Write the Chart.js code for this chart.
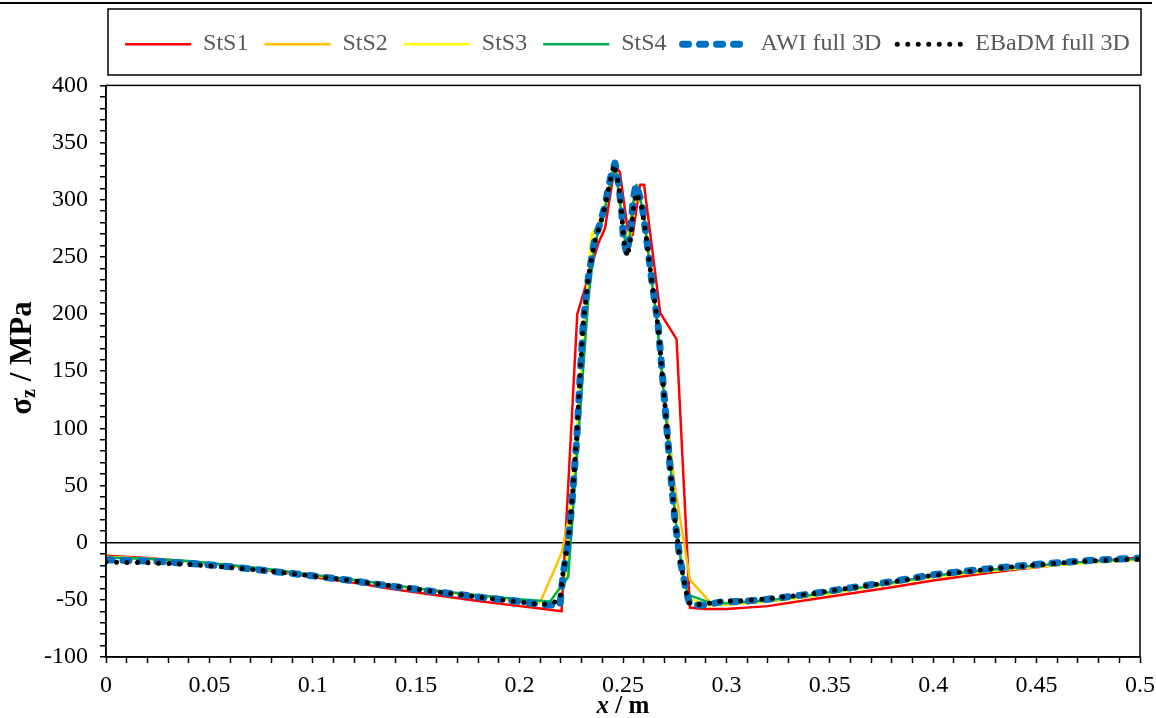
<!DOCTYPE html>
<html>
<head>
<meta charset="utf-8">
<script src="https://cdn.jsdelivr.net/npm/chart.js@4.4.1/dist/chart.umd.min.js"></script>
<style>
  html, body { margin: 0; padding: 0; background: #fff; }
  #wrap { width: 1156px; height: 718px; }
</style>
</head>
<body>
<div id="wrap"><canvas id="chart" width="1156" height="718"></canvas></div>
<script>
// series labels
const seriesNames = ['StS1', 'StS2', 'StS3', 'StS4', 'AWI full 3D', 'EBaDM full 3D'];

// x / m and sigma_z / MPa
const xStS1 = [0, 0.02, 0.04, 0.06, 0.08, 0.1, 0.12, 0.14, 0.16, 0.18, 0.2, 0.21, 0.2203, 0.2279, 0.2381, 0.2413, 0.2461, 0.2485, 0.2526, 0.2547, 0.2582, 0.2602, 0.268, 0.2759, 0.2824, 0.29, 0.3, 0.32, 0.34, 0.36, 0.38, 0.4, 0.42, 0.44, 0.46, 0.48, 0.5];
const yStS1 = [-11.5, -13.5, -16.5, -20, -24.5, -30, -35, -41, -46, -51, -55.5, -57.5, -60, 200, 262, 275, 330, 324, 269, 269, 313, 313, 201, 178, -57, -58, -58, -55.5, -50, -44.5, -39, -33, -28, -23.5, -19.5, -16, -13];

const xStS2 = [0, 0.02, 0.04, 0.06, 0.08, 0.1, 0.12, 0.14, 0.16, 0.18, 0.2, 0.2099, 0.2203, 0.2252, 0.2348, 0.2381, 0.2413, 0.2461, 0.2494, 0.2518, 0.2542, 0.2566, 0.2598, 0.263, 0.2663, 0.2695, 0.2751, 0.2824, 0.2921, 0.3, 0.32, 0.34, 0.36, 0.38, 0.4, 0.42, 0.44, 0.46, 0.48, 0.5];
const yStS2 = [-12.5, -14, -16.5, -20, -24, -28.5, -33, -38, -42.5, -46.5, -50.5, -52.3, -9, 35, 268, 278, 296, 332, 284, 258, 272, 308, 292, 240, 196, 140, 49, -32.5, -52, -54, -51.5, -47, -41.5, -36, -30, -26, -22.5, -19.5, -17, -15];

const xStS3 = [0, 0.02, 0.04, 0.06, 0.08, 0.1, 0.12, 0.14, 0.16, 0.18, 0.2, 0.2147, 0.2227, 0.2276, 0.2348, 0.2381, 0.2413, 0.2461, 0.2494, 0.2518, 0.2542, 0.2566, 0.2598, 0.263, 0.2663, 0.2695, 0.2727, 0.2759, 0.2791, 0.2816, 0.2921, 0.3, 0.32, 0.34, 0.36, 0.38, 0.4, 0.42, 0.44, 0.46, 0.48, 0.5];
const yStS3 = [-12.5, -14, -16.5, -20, -24, -28.5, -33, -38, -42.5, -46.5, -50.5, -52, -29.5, 95, 270, 278, 296, 333, 283, 262, 290, 305, 292, 240, 196, 135, 75, 15, -28, -48.5, -55, -54, -51.5, -47, -41.5, -36, -30, -26, -22.5, -19.5, -17, -15];

const xStS4 = [0, 0.02, 0.04, 0.06, 0.08, 0.1, 0.12, 0.14, 0.16, 0.18, 0.2, 0.2147, 0.2235, 0.2332, 0.2364, 0.2397, 0.2429, 0.2461, 0.2494, 0.2518, 0.2534, 0.255, 0.2566, 0.2598, 0.263, 0.2663, 0.2695, 0.2727, 0.2759, 0.2791, 0.2816, 0.2921, 0.3, 0.32, 0.34, 0.36, 0.38, 0.4, 0.42, 0.44, 0.46, 0.48, 0.5];
const yStS4 = [-13, -14, -16, -19.5, -23.5, -28, -32.5, -37.5, -42, -46, -49.5, -51.4, -30, 213, 262, 280, 305, 333, 285, 254, 270, 298, 313, 290, 242, 196, 135, 72, 12, -30, -45.6, -52.4, -53, -50.5, -46, -40.5, -35, -29, -25, -21.5, -18.5, -16, -14];

const xAWI = [0, 0.02, 0.04, 0.06, 0.08, 0.1, 0.12, 0.14, 0.16, 0.18, 0.2, 0.21, 0.2195, 0.2211, 0.2235, 0.2252, 0.2276, 0.2292, 0.2308, 0.2332, 0.2364, 0.2389, 0.2413, 0.2429, 0.2446, 0.2461, 0.2478, 0.2494, 0.2502, 0.2518, 0.2534, 0.255, 0.2563, 0.259, 0.2614, 0.2638, 0.267, 0.2703, 0.2727, 0.2751, 0.2776, 0.2808, 0.2824, 0.2888, 0.297, 0.31, 0.32, 0.34, 0.36, 0.38, 0.4, 0.42, 0.44, 0.46, 0.48, 0.5];
const yAWI = [-15, -16, -18, -21, -25, -29, -33.5, -38.5, -43, -47.5, -51.5, -54, -55, -27, 0, 32, 90, 143, 193, 231, 266, 279, 295, 310, 324, 332, 315, 289, 266, 253, 269, 301, 313, 298, 266, 231, 190, 120, 67, 20, -15, -44, -54.5, -54.5, -52, -51, -49.5, -45, -39.5, -34, -28, -24, -20.5, -17.5, -15, -13.5];

const xEBaDM = [0, 0.02, 0.04, 0.06, 0.08, 0.1, 0.12, 0.14, 0.16, 0.18, 0.2, 0.21, 0.2147, 0.2195, 0.2211, 0.2235, 0.2252, 0.2276, 0.2292, 0.2308, 0.2332, 0.2364, 0.2389, 0.2413, 0.2429, 0.2446, 0.2457, 0.2478, 0.2494, 0.2506, 0.2522, 0.2538, 0.255, 0.2566, 0.259, 0.2614, 0.2638, 0.267, 0.2703, 0.2727, 0.2751, 0.2776, 0.2808, 0.2824, 0.2888, 0.297, 0.31, 0.32, 0.34, 0.36, 0.38, 0.4, 0.42, 0.44, 0.46, 0.48, 0.5];
const yEBaDM = [-17, -17.5, -19, -21.5, -25, -29, -33.5, -38, -43, -47.5, -52, -54, -53.5, -50, -25, 2, 33, 92, 145, 192, 232, 264, 278, 294, 309, 323, 331, 314, 287, 262, 250, 268, 292, 306, 295, 265, 230, 189, 120, 67, 20, -15, -45, -54, -54, -51.5, -50.5, -49, -45, -39.5, -34.5, -28.5, -24.5, -21, -18, -15.5, -14.5];

// axis ranges
const xMin = 0, xMax = 0.5, xStep = 0.01;
const yMin = -100, yMax = 400, yStep = 10;

const toPoints = (xs, ys) => xs.map((x, i) => ({ x: x, y: ys[i] }));

const serif = "'Liberation Serif', 'Times New Roman', serif";

const lineSet = (label, xs, ys, color, width, order, dash) => ({
    label: label,
    data: toPoints(xs, ys),
    borderColor: color,
    backgroundColor: color,
    borderWidth: width,
    borderDash: dash || [],
    borderCapStyle: dash ? 'round' : 'butt',
    borderJoinStyle: 'round',
    pointRadius: 0,
    tension: 0,
    fill: false,
    order: order
});

// legend entries straight from the line styles (dash included)
const legendLabels = (chart) => chart.data.datasets.map((ds, i) => ({
    text: ds.label,
    fillStyle: ds.borderColor,
    strokeStyle: ds.borderColor,
    fontColor: '#595959',
    lineWidth: ds.borderWidth,
    lineDash: ds.borderDash,
    lineCap: ds.borderCapStyle,
    pointStyle: 'line',
    hidden: false,
    datasetIndex: i
}));

// frame, legend box, axis titles
const framePlugin = {
    id: 'frame',
    afterLayout(chart) {
        const legend = chart.legend;
        legend.left = 105;
        legend.right = 1150;
    },
    afterDraw(chart) {
        const { ctx, chartArea: a } = chart;
        ctx.save();
        ctx.strokeStyle = '#000';

        ctx.lineWidth = 2;
        ctx.beginPath();
        ctx.moveTo(0, 3);
        ctx.lineTo(1152, 3);
        ctx.stroke();

        ctx.lineWidth = 1.5;
        ctx.strokeRect(a.left, a.top, a.right - a.left, a.bottom - a.top);
        ctx.strokeRect(a.left + 2, 9, a.right - a.left - 1, 66);

        // y title: sigma_z / MPa
        ctx.fillStyle = '#000';
        ctx.textBaseline = 'middle';
        ctx.textAlign = 'left';
        const big = 'bold 31px ' + serif;
        const small = 'bold 20px ' + serif;
        ctx.font = big;
        const w1 = ctx.measureText('σ').width;
        const w3 = ctx.measureText(' / MPa').width;
        ctx.font = small;
        const w2 = ctx.measureText('z').width;
        ctx.translate(23, 358);
        ctx.rotate(-Math.PI / 2);
        let x0 = -(w1 + w2 + w3) / 2;
        ctx.font = big;
        ctx.fillText('σ', x0, 0);
        ctx.font = small;
        ctx.fillText('z', x0 + w1, 7);
        ctx.font = big;
        ctx.fillText(' / MPa', x0 + w1 + w2, 0);
        ctx.setTransform(1, 0, 0, 1, 0, 0);

        // x title: x / m
        const italic = 'italic bold 25px ' + serif;
        const mid = 'bold 25px ' + serif;
        ctx.font = italic;
        const wx = ctx.measureText('x').width;
        ctx.font = mid;
        const wm = ctx.measureText(' / m').width;
        let cx = (a.left + a.right) / 2 - (wx + wm) / 2;
        ctx.font = italic;
        ctx.fillText('x', cx, 707);
        ctx.font = mid;
        ctx.fillText(' / m', cx + wx, 707);
        ctx.restore();
    }
};

new Chart(document.getElementById('chart'), {
    type: 'line',
    data: {
        datasets: [
            lineSet(seriesNames[0], xStS1, yStS1, '#ff0000', 2.5, 5),
            lineSet(seriesNames[1], xStS2, yStS2, '#ffc000', 2.5, 4),
            lineSet(seriesNames[2], xStS3, yStS3, '#ffff00', 2.5, 3),
            lineSet(seriesNames[3], xStS4, yStS4, '#00b050', 2.5, 2),
            lineSet(seriesNames[4], xAWI, yAWI, '#0070c0', 7, 1, [6, 11]),
            lineSet(seriesNames[5], xEBaDM, yEBaDM, '#000000', 5, 0, [0, 10.5])
        ]
    },
    options: {
        responsive: false,
        animation: false,
        devicePixelRatio: 1,
        layout: { padding: { top: 9, right: 16, bottom: 0, left: 0 } },
        plugins: {
            tooltip: { enabled: false },
            title: {
                display: true,
                text: '',
                weight: 500,
                font: { size: 1 },
                padding: { top: 0, bottom: 18 }
            },
            legend: {
                position: 'top',
                title: { display: true, text: '', font: { size: 1 }, padding: { top: 6, bottom: 0 } },
                labels: {
                    usePointStyle: true,
                    pointStyle: 'line',
                    pointStyleWidth: 66,
                    boxWidth: 66,
                    padding: 16,
                    color: '#595959',
                    font: { family: serif, size: 24 },
                    generateLabels: legendLabels
                }
            }
        },
        scales: {
            x: {
                type: 'linear',
                min: xMin,
                max: xMax,
                afterFit: (scale) => {
                    scale.height = 61;
                    scale.paddingRight = 6;
                },
                border: { color: '#000', width: 1.5 },
                grid: { drawOnChartArea: false, tickLength: 6, tickColor: '#000', tickWidth: 1.5 },
                ticks: {
                    stepSize: xStep,
                    autoSkip: false,
                    maxRotation: 0,
                    padding: 8,
                    color: '#000',
                    font: { family: serif, size: 24 },
                    callback: (v) => {
                        const k = Math.round(v * 100);
                        return k % 5 === 0 ? String(k / 100) : '';
                    }
                }
            },
            y: {
                type: 'linear',
                min: yMin,
                max: yMax,
                afterFit: (scale) => { scale.width = 106; },
                border: { color: '#000', width: 1.5 },
                grid: {
                    drawOnChartArea: true,
                    color: (c) => (c.tick && c.tick.value === 0 ? '#000' : 'rgba(0,0,0,0)'),
                    lineWidth: 1.5,
                    tickLength: 6,
                    tickColor: '#000',
                    tickWidth: 1.5
                },
                ticks: {
                    stepSize: yStep,
                    autoSkip: false,
                    padding: 12,
                    color: '#000',
                    font: { family: serif, size: 24 },
                    callback: (v) => (Math.round(v) % 50 === 0 ? String(Math.round(v)) : '')
                }
            }
        }
    },
    plugins: [framePlugin]
});
</script>
</body>
</html>
